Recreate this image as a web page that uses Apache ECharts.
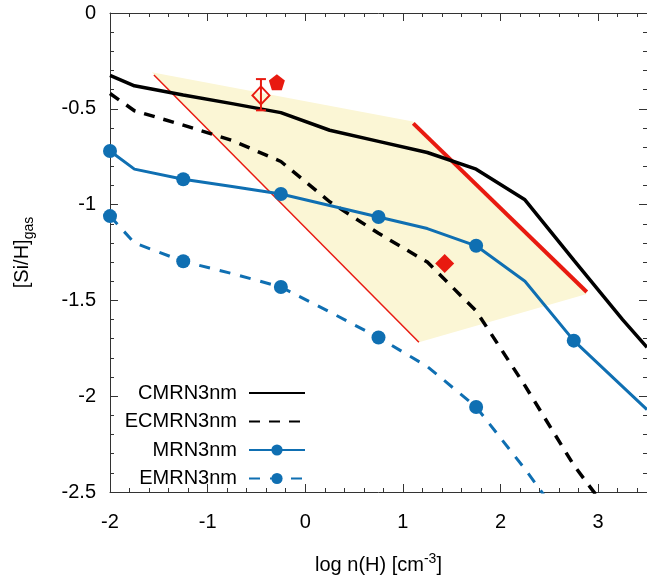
<!DOCTYPE html>
<html>
<head>
<meta charset="utf-8">
<script src="https://cdn.jsdelivr.net/npm/echarts@6/dist/echarts.min.js"></script>
<style>
html,body{margin:0;padding:0;background:#fff;}
#chart{width:647px;height:583px;}
</style>
</head>
<body>
<div id="chart"></div>
<script>
// ---- data ----
const cmrnX = [-2, -1.75, -1.25, -0.75, -0.25, 0.25, 0.75, 1.25, 1.75, 2.25, 2.75, 3.25, 3.5];
const cmrnY = [-0.325, -0.38, -0.428, -0.473, -0.52, -0.612, -0.67, -0.728, -0.815, -0.975, -1.29, -1.6, -1.745];

const ecmrnX = [-2, -1.75, -1.25, -0.75, -0.25, 0.25, 0.75, 1.25, 1.75, 2.25, 2.75, 3.0];
const ecmrnY = [-0.42, -0.51, -0.585, -0.665, -0.775, -0.985, -1.15, -1.30, -1.555, -1.945, -2.36, -2.53];

const mrnX = [-2, -1.75, -1.25, -0.75, -0.25, 0.25, 0.75, 1.25, 1.75, 2.25, 2.75, 3.25, 3.5];
const mrnY = [-0.72, -0.815, -0.868, -0.905, -0.945, -1.005, -1.065, -1.125, -1.215, -1.40, -1.71, -1.95, -2.07];
const mrnMarked = [true, false, true, false, true, false, true, false, true, false, true, false, false];

const emrnX = [-2, -1.75, -1.25, -0.75, -0.25, 0.25, 0.75, 1.25, 1.75, 2.25, 2.75];
const emrnY = [-1.06, -1.2, -1.296, -1.36, -1.43, -1.56, -1.694, -1.845, -2.056, -2.38, -2.73];
const emrnMarked = [true, false, true, false, true, false, true, false, true, false, true];

// shaded region (polygon vertices)
const regionX = [-1.573, 1.103, 2.883, 1.164];
const regionY = [-0.309, -0.566, -1.466, -1.718];
// thin and thick red lines
const thinRedX = [-1.55, 1.164];
const thinRedY = [-0.324, -1.718];
const thickRedX = [1.106, 2.883];
const thickRedY = [-0.576, -1.456];

// observations
const openDiamond = [-0.454, -0.43];
const openDiamondErr = [-0.345, -0.508];
const pentagonPt = [-0.291, -0.362];
const filledDiamondPt = [1.428, -1.308];

const xTicks = [-2, -1, 0, 1, 2, 3];
const yTicks = [0, -0.5, -1, -1.5, -2, -2.5];

const seriesNames = ['CMRN3nm', 'ECMRN3nm', 'MRN3nm', 'EMRN3nm'];

// ---- chart ----
const FONT = 'Liberation Sans, Arial, sans-serif';
const BLUE = '#0f6fb2';
const RED = '#e81a10';
const AX = '#333';

function pairs(xs, ys) { return xs.map((x, i) => [x, ys[i]]); }
function marked(xs, ys, flags) {
  return xs.map((x, i) => flags[i] ? [x, ys[i]] : { value: [x, ys[i]], symbol: 'none' });
}

const chart = echarts.init(document.getElementById('chart'), null, { renderer: 'canvas' });

function axisCommon() {
  return {
    type: 'value',
    axisLine: { show: true, onZero: false, lineStyle: { color: AX, width: 1 } },
    axisTick: { show: true, inside: true, length: 8, lineStyle: { color: AX } },
    minorTick: { show: true, splitNumber: 5, length: 4, lineStyle: { color: AX } },
    splitLine: { show: false },
    minorSplitLine: { show: false }
  };
}

const option = {
  animation: false,
  textStyle: { fontFamily: FONT },
  grid: { left: 108, right: 0, top: 13, bottom: 84, containLabel: false },
  xAxis: [
    Object.assign(axisCommon(), {
      position: 'bottom', min: -2, max: 3.5, interval: 1,
      axisLabel: { fontSize: 20, color: '#000', margin: 20, fontFamily: FONT, showMaxLabel: false,
        formatter: v => xTicks.includes(v) ? String(v) : '' },
      name: 'log n(H) [cm{sup|-3}]',
      nameLocation: 'middle', nameGap: 60,
      nameTextStyle: { fontSize: 20, color: '#000', fontFamily: FONT, lineHeight: 26,
        rich: { sup: { fontSize: 14, verticalAlign: 'top', lineHeight: 14, fontFamily: FONT, color: '#000' } } }
    }),
    Object.assign(axisCommon(), {
      position: 'top', min: -2, max: 3.5, interval: 1, axisLabel: { show: false }
    })
  ],
  yAxis: [
    Object.assign(axisCommon(), {
      position: 'left', min: -2.5, max: 0, interval: 0.5,
      axisLabel: { fontSize: 20, color: '#000', margin: 14, fontFamily: FONT,
        formatter: v => yTicks.includes(v) ? String(v) : '' },
      name: '[Si/H]{sub|gas}',
      nameLocation: 'middle', nameGap: 74, nameRotate: 90,
      nameTextStyle: { fontSize: 20, color: '#000', fontFamily: FONT, lineHeight: 28,
        rich: { sub: { fontSize: 14, verticalAlign: 'bottom', lineHeight: 12, fontFamily: FONT, color: '#000' } } }
    }),
    Object.assign(axisCommon(), {
      position: 'right', min: -2.5, max: 0, interval: 0.5, axisLabel: { show: false }
    })
  ],
  legend: {
    orient: 'vertical', right: 336, top: 378, align: 'right',
    itemWidth: 56, itemHeight: 14, itemGap: 8.5,
    textStyle: { fontSize: 20, color: '#000', fontFamily: FONT, padding: [0, 7, 0, 0] },
    data: [
      { name: seriesNames[0], itemStyle: { opacity: 0 } },
      { name: seriesNames[1], itemStyle: { opacity: 0 } },
      { name: seriesNames[2] },
      { name: seriesNames[3] }
    ]
  },
  series: [
    {
      type: 'custom', name: 'region', silent: true, z: 1,
      data: [[regionX[0], regionY[0]]],
      renderItem: (params, api) => ({
        type: 'polygon',
        shape: { points: regionX.map((x, i) => api.coord([x, regionY[i]])) },
        style: { fill: '#fbf6d5' }
      })
    },
    {
      type: 'line', name: 'thinRed', silent: true, z: 2, symbol: 'none',
      data: pairs(thinRedX, thinRedY),
      lineStyle: { color: RED, width: 1.5 }
    },
    {
      type: 'line', name: 'thickRed', silent: true, z: 2, symbol: 'none',
      data: pairs(thickRedX, thickRedY),
      lineStyle: { color: RED, width: 4 }
    },
    {
      type: 'line', name: seriesNames[0], z: 3, symbol: 'none', clip: true,
      data: pairs(cmrnX, cmrnY),
      itemStyle: { color: '#000' },
      lineStyle: { color: '#000', width: 3.5 }
    },
    {
      type: 'line', name: seriesNames[1], z: 3, symbol: 'none', clip: true,
      data: pairs(ecmrnX, ecmrnY),
      itemStyle: { color: '#000' },
      lineStyle: { color: '#000', width: 3.5, type: [11, 9] }
    },
    {
      type: 'line', name: seriesNames[2], z: 4, symbol: 'circle', symbolSize: 14, clip: true,
      data: marked(mrnX, mrnY, mrnMarked),
      itemStyle: { color: BLUE },
      lineStyle: { color: BLUE, width: 3 }
    },
    {
      type: 'line', name: seriesNames[3], z: 4, symbol: 'circle', symbolSize: 14, clip: true,
      data: marked(emrnX, emrnY, emrnMarked),
      itemStyle: { color: BLUE },
      lineStyle: { color: BLUE, width: 3, type: [11, 10] }
    },
    {
      type: 'custom', name: 'errbar', silent: true, z: 6,
      data: [[openDiamond[0], openDiamondErr[0], openDiamondErr[1]]],
      renderItem: (params, api) => {
        const top = api.coord([api.value(0), api.value(1)]);
        const bot = api.coord([api.value(0), api.value(2)]);
        const hw = 5;
        const st = { stroke: RED, lineWidth: 2 };
        return {
          type: 'group',
          children: [
            { type: 'line', shape: { x1: top[0], y1: top[1], x2: bot[0], y2: bot[1] }, style: st },
            { type: 'line', shape: { x1: top[0] - hw, y1: top[1], x2: top[0] + hw, y2: top[1] }, style: st },
            { type: 'line', shape: { x1: bot[0] - hw, y1: bot[1], x2: bot[0] + hw, y2: bot[1] }, style: st }
          ]
        };
      }
    },
    {
      type: 'scatter', name: 'openDiamond', silent: true, z: 6,
      symbol: 'diamond', symbolSize: [17, 18],
      data: [openDiamond],
      itemStyle: { color: 'rgba(255,255,255,0)', borderColor: RED, borderWidth: 2, opacity: 1 }
    },
    {
      type: 'scatter', name: 'pentagon', silent: true, z: 6,
      symbol: 'path://M0,-10 L9.51,-3.09 L5.88,8.09 L-5.88,8.09 L-9.51,-3.09 Z', symbolSize: 16,
      data: [pentagonPt],
      itemStyle: { color: RED, opacity: 1 }
    },
    {
      type: 'scatter', name: 'filledDiamond', silent: true, z: 6,
      symbol: 'diamond', symbolSize: 19,
      data: [filledDiamondPt],
      itemStyle: { color: RED, opacity: 1 }
    }
  ]
};
chart.setOption(option);
</script>
</body>
</html>
